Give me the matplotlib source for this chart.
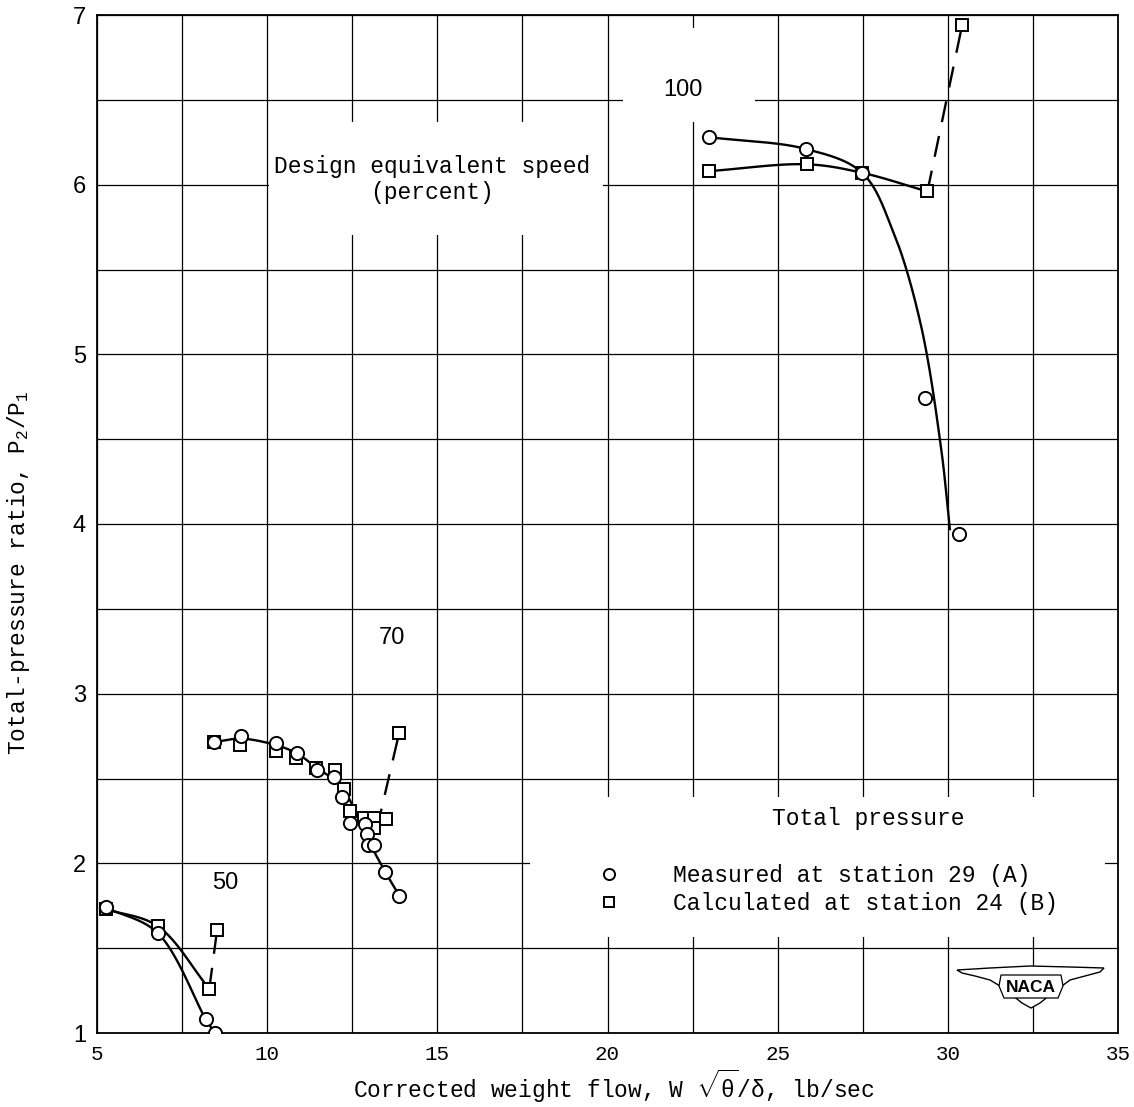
import numpy as np
import matplotlib

matplotlib.use("Agg")
import matplotlib.pyplot as plt
from matplotlib.lines import Line2D
from matplotlib.patches import Rectangle, Polygon

# ---- data ----
# 50 percent speed
c50_x = [5.26, 6.78, 8.20, 8.47]
c50_y = [1.74, 1.59, 1.08, 1.00]
s50_x = [5.26, 6.78, 8.30, 8.53]
s50_y = [1.73, 1.63, 1.26, 1.61]

# 70 percent speed
c70_x = [8.45, 9.22, 10.25, 10.88, 11.45, 11.97, 12.21, 12.43, 12.87, 12.92, 12.97, 13.14, 13.47, 13.88]
c70_y = [2.715, 2.75, 2.71, 2.65, 2.55, 2.51, 2.39, 2.24, 2.23, 2.17, 2.11, 2.11, 1.95, 1.81]
s70_x = [8.45, 9.20, 10.26, 10.85, 11.44, 11.99, 12.26, 12.43, 12.85, 13.14, 13.14, 13.50, 13.88]
s70_y = [2.715, 2.70, 2.66, 2.62, 2.56, 2.55, 2.44, 2.31, 2.27, 2.27, 2.21, 2.26, 2.77]

# 100 percent speed
c100_x = [22.97, 25.84, 27.48, 29.33, 30.33]
c100_y = [6.28, 6.21, 6.07, 4.74, 3.94]
s100_x = [22.99, 25.86, 27.48, 29.40, 30.42]
s100_y = [6.08, 6.12, 6.07, 5.96, 6.94]

# faired curves (as drawn on the chart)
fc50_x, fc50_y = c50_x, c50_y
fs50_x, fs50_y = s50_x[:3], s50_y[:3]
dash50_x, dash50_y = s50_x[2:], s50_y[2:]

fc70_x = [8.45, 9.24, 10.29, 10.90, 11.47, 12.00, 12.26, 12.63, 12.92, 13.07, 13.47, 13.88]
fc70_y = [2.715, 2.735, 2.695, 2.645, 2.56, 2.49, 2.43, 2.295, 2.18, 2.10, 1.95, 1.81]
dash70_x = [13.22, 13.88]
dash70_y = [2.20, 2.77]

fc100_x = [22.97, 25.84, 27.48, 28.4, 29.2, 29.8, 30.06]
fc100_y = [6.28, 6.21, 6.07, 5.72, 5.18, 4.45, 3.97]
fs100_x, fs100_y = s100_x[:4], s100_y[:4]
dash100_x, dash100_y = s100_x[3:], s100_y[3:]

speed_labels = ["50", "70", "100"]
speed_label_x = [8.76, 13.67, 22.22]
speed_label_y = [1.884, 3.33, 6.56]

MONO = "Liberation Mono"
SANS = "Liberation Sans"

plt.rcParams["mathtext.fontset"] = "custom"
plt.rcParams["mathtext.rm"] = MONO
plt.rcParams["mathtext.it"] = MONO + ":italic"
plt.rcParams["mathtext.bf"] = MONO + ":bold"


def smooth(xs, ys, n=40):
    # centripetal Catmull-Rom through the faired points, in pixel-like units
    sx, sy = 34.0, 170.0
    pts = np.column_stack([np.asarray(xs) * sx, np.asarray(ys) * sy])
    if len(pts) < 3:
        return np.asarray(xs), np.asarray(ys)
    pts = np.vstack([2 * pts[0] - pts[1], pts, 2 * pts[-1] - pts[-2]])
    out = []
    for i in range(1, len(pts) - 2):
        p0, p1, p2, p3 = pts[i - 1], pts[i], pts[i + 1], pts[i + 2]
        t0 = 0.0
        t1 = t0 + np.linalg.norm(p1 - p0) ** 0.5
        t2 = t1 + np.linalg.norm(p2 - p1) ** 0.5
        t3 = t2 + np.linalg.norm(p3 - p2) ** 0.5
        t = np.linspace(t1, t2, n)[:, None]
        a1 = (t1 - t) / (t1 - t0) * p0 + (t - t0) / (t1 - t0) * p1
        a2 = (t2 - t) / (t2 - t1) * p1 + (t - t1) / (t2 - t1) * p2
        a3 = (t3 - t) / (t3 - t2) * p2 + (t - t2) / (t3 - t2) * p3
        b1 = (t2 - t) / (t2 - t0) * a1 + (t - t0) / (t2 - t0) * a2
        b2 = (t3 - t) / (t3 - t1) * a2 + (t - t1) / (t3 - t1) * a3
        c = (t2 - t) / (t2 - t1) * b1 + (t - t1) / (t2 - t1) * b2
        out.append(c if i == 1 else c[1:])
    out = np.vstack(out)
    return out[:, 0] / sx, out[:, 1] / sy


fig = plt.figure(figsize=(11.34, 11.07), dpi=100)
ax = fig.add_axes([97 / 1134, 1 - 1033 / 1107, 1021 / 1134, 1018 / 1107])

ax.set_xlim(5, 35)
ax.set_ylim(1, 7)
ax.set_xticks(np.arange(5, 36, 5))
ax.set_xticks(np.arange(5, 35.1, 2.5), minor=True)
ax.set_yticks(np.arange(1, 8, 1))
ax.set_yticks(np.arange(1, 7.01, 0.5), minor=True)
ax.grid(True, which="both", color="black", lw=0.9)
ax.tick_params(which="both", length=0)
ax.tick_params(axis="x", pad=9)
ax.tick_params(axis="y", pad=8)
for lab in ax.get_xticklabels():
    lab.set_fontfamily(MONO)
    lab.set_fontsize(15)
for lab in ax.get_yticklabels():
    lab.set_fontfamily(SANS)
    lab.set_fontsize(17)
for sp in ax.spines.values():
    sp.set_linewidth(1.3)


# white areas behind the notes (grid is broken there on the original)
def px_rect(x0, y0, x1, y1):
    return Rectangle(((x0 - 97) / 1021, (1033 - y1) / 1018), (x1 - x0) / 1021, (y1 - y0) / 1018,
                     transform=ax.transAxes, facecolor="white", edgecolor="none", zorder=2)


ax.add_patch(px_rect(269, 122, 603, 235))
ax.add_patch(px_rect(623, 28, 755, 122))
ax.add_patch(px_rect(530, 797, 1105, 937))

line_kw = dict(color="black", lw=1.7, zorder=3)
dash_kw = dict(color="black", lw=1.7, zorder=3, linestyle=(0, (9, 6)))
circ_kw = dict(linestyle="none", marker="o", ms=9.5, mfc="white", mec="black", mew=1.4, zorder=4)
sq_kw = dict(linestyle="none", marker="s", ms=9, mfc="white", mec="black", mew=1.4, zorder=4)

for fx, fy in [(fc50_x, fc50_y), (fs50_x, fs50_y), (fc70_x, fc70_y),
               (fc100_x, fc100_y), (fs100_x, fs100_y)]:
    ax.plot(*smooth(fx, fy), **line_kw)
for dx, dy in [(dash50_x, dash50_y), (dash70_x, dash70_y), (dash100_x, dash100_y)]:
    ax.plot(dx, dy, **dash_kw)

ax.plot(s50_x, s50_y, **sq_kw)
ax.plot(c50_x, c50_y, **circ_kw)
ax.plot(s70_x, s70_y, **sq_kw)
ax.plot(c70_x, c70_y, **circ_kw)
ax.plot(s100_x, s100_y, **sq_kw)
ax.plot(c100_x, c100_y, **circ_kw)

for lab, lx, ly in zip(speed_labels, speed_label_x, speed_label_y):
    ax.text(lx, ly, lab, family=SANS, fontsize=17, ha="center", va="center", zorder=5)

ax.text(14.85, 6.03, "Design equivalent speed\n(percent)", family=MONO, fontsize=16.5,
        ha="center", va="center", multialignment="center", linespacing=1.2, zorder=5)

ax.text((868 - 97) / 1021, (1033 - 818) / 1018, "Total pressure", transform=ax.transAxes,
        family=MONO, fontsize=16.5, ha="center", va="center", zorder=5)

handles = [
    Line2D([], [], linestyle="none", marker="o", ms=8, mfc="white", mec="black", mew=1.4),
    Line2D([], [], linestyle="none", marker="s", ms=7.5, mfc="white", mec="black", mew=1.4),
]
leg = ax.legend(handles, ["Measured at station 29 (A)", "Calculated at station 24 (B)"],
                loc="upper left", bbox_to_anchor=((563 - 97) / 1021, (1033 - 864) / 1018),
                frameon=False, handlelength=4.0, handletextpad=0.8, borderpad=0,
                borderaxespad=0, labelspacing=0.2, prop={"family": MONO, "size": 16.5})
leg.set_zorder(5)

ax.set_xlabel(r"Corrected weight flow, W $\sqrt{\mathrm{\theta}}/\mathrm{\delta}$, lb/sec",
              family=MONO, fontsize=16.5)
ax.xaxis.set_label_coords(0.506, -0.034)
ax.set_ylabel("Total-pressure ratio, P$_2$/P$_1$", family=MONO, fontsize=16.5)
ax.yaxis.set_label_coords(-0.064, 0.452)


# NACA wing logo, lower right
def px2ax(px, py):
    return ((px - 97) / 1021, (1033 - py) / 1018)


wing_px = [(957, 970), (990, 968), (1030, 966), (1070, 967), (1104, 968),
           (1100, 972), (1085, 976), (1070, 980), (1062, 986), (1050, 995),
           (1040, 1003), (1031, 1008), (1022, 1003), (1012, 995), (1000, 986),
           (990, 980), (975, 976), (962, 973)]
ax.add_patch(Polygon([px2ax(*p) for p in wing_px], closed=True, transform=ax.transAxes,
                     facecolor="white", edgecolor="black", lw=1.0, zorder=5))
box_px = [(1001, 975), (1061, 975), (1063, 986), (1058, 998), (1004, 998), (999, 986)]
ax.add_patch(Polygon([px2ax(*p) for p in box_px], closed=True, transform=ax.transAxes,
                     facecolor="white", edgecolor="black", lw=0.9, zorder=5))
ax.text(*px2ax(1031, 987), "NACA", transform=ax.transAxes, family=SANS, fontsize=12.5,
        fontweight="bold", ha="center", va="center", zorder=6)

fig.savefig("out.png", dpi=100)
